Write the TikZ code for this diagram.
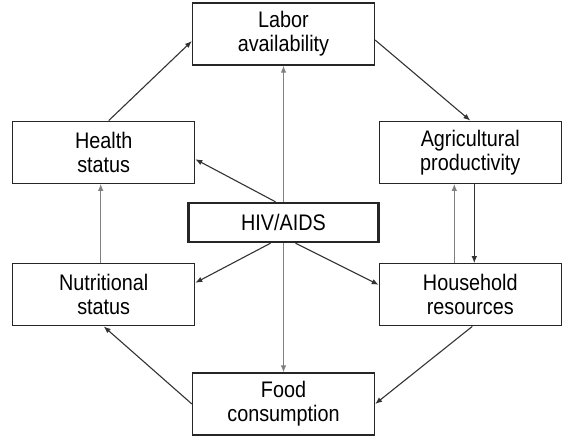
\documentclass[tikz,border=0pt]{standalone}
\usepackage{fontspec}
\setmainfont[FakeStretch=0.88]{Liberation Sans}
\usetikzlibrary{calc}
\usetikzlibrary{arrows,arrows.meta,shapes}
\usetikzlibrary{matrix,positioning}
\definecolor{linegray}{rgb}{0.2,0.2,0.2}
\definecolor{lightline}{rgb}{0.5,0.5,0.5}
\tikzset{
  box/.style={draw=black!85,line width=1.2pt,minimum width=182pt,minimum height=62pt,
    align=center,inner sep=2pt,font=\fontsize{22.5}{24}\selectfont},
  hivbox/.style={box,minimum width=190pt,minimum height=39pt,line width=2.4pt},
  arr/.style={-{Latex[length=7pt,width=5.5pt]},draw=linegray,line width=1.1pt},
  arrg/.style={arr,draw=lightline}
}
\begin{document}
\begin{tikzpicture}[x=1pt,y=1pt]
        \useasboundingbox (0,0) rectangle (564,-440);
        \matrix(M) at (287,-219) [ampersand replacement=\&,row sep=0pt,column sep=0pt,inner sep=0pt] {
          \&[-8pt] \node[box] (labor) {Labor\\availability}; \&[-1pt] \\[55pt]
          \node[box] (health) {Health\\status}; \& \& \node[box] (agri) {Agricultural\\productivity}; \\[18pt]
          \& \node[hivbox] (hiv) {HIV/AIDS}; \& \\[20pt]
          \node[box] (nutr) {Nutritional\\status}; \& \& \node[box] (house) {Household\\resources}; \\[46pt]
          \& \node[box] (food) {Food\\consumption}; \& \\
        };
        \draw[arr] ([xshift=5pt]health.north) -- ([yshift=-7pt]labor.west);
        \draw[arr] ([yshift=-6pt]labor.east) -- (agri.north);
        \draw[arr] ([xshift=4pt]agri.south) -- ([xshift=4pt]house.north);
        \draw[arrg] ([xshift=-16pt]house.north) -- ([xshift=-16pt]agri.south);
        \draw[arr] ([xshift=2pt]house.south) -- (food.east);
        \draw[arr] (food.west) -- (nutr.south);
        \draw[arrg] ([xshift=-3pt]nutr.north) -- ([xshift=-3pt]health.south);
        % from HIV/AIDS
        \draw[arrg] (hiv.north) -- (labor.south);
        \draw[arrg] (hiv.south) -- (food.north);
        \draw[arr] ([xshift=-8pt]hiv.north) -- ([yshift=-7pt]health.east);
        \draw[arr] ([xshift=-13pt]hiv.south) -- ([yshift=12pt]nutr.east);
        \draw[arr] ([xshift=12pt]hiv.south) -- ([yshift=10pt]house.west);
      \end{tikzpicture}
\end{document}
